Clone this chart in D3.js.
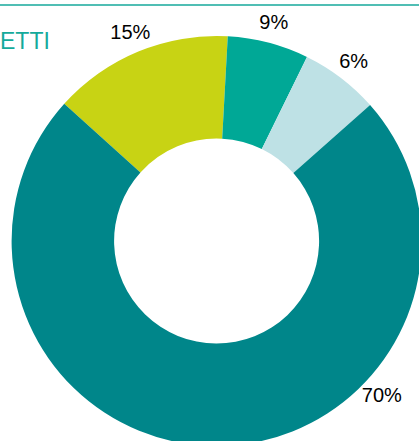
<!DOCTYPE html>
<html>
<head>
<meta charset="utf-8">
<script src="https://cdn.jsdelivr.net/npm/d3@7"></script>
<style>
  body { margin: 0; background: #fff; }
  svg { display: block; }
</style>
</head>
<body>
<div id="chart"></div>
<script>
// slice shares (clockwise, starting at the yellow slice)
var categories = ["A", "B", "C", "D"]
var shares = [14.2, 6.4, 6.2, 73.2]
var labels = ["15%", "9%", "6%", "70%"]
var colors = ["#c8d314", "#00a896", "#bee1e5", "#00868a"]
var title = "ETTI"

var width = 419, height = 441
var cx = 216.6, cy = 241
var outerR = 205, innerR = 102.5
var startDeg = -48
var labelR = 226
var bigLabelDeg = 133 // the 70% label sits off its mid angle

var svg = d3.select("#chart").append("svg")
  .attr("width", width)
  .attr("height", height)

// top rule
svg.append("line")
  .attr("x1", 0).attr("x2", width)
  .attr("y1", 5).attr("y2", 5)
  .attr("stroke", "#50beb4")
  .attr("stroke-width", 2)

// title fragment
svg.append("text")
  .attr("x", 0)
  .attr("y", 49)
  .attr("font-family", "Liberation Sans, Arial, sans-serif")
  .attr("font-size", 23)
  .attr("fill", "#14aa9b")
  .text(title)

var data = categories.map(function(c, i) {
  return { cat: c, value: shares[i], label: labels[i], color: colors[i] }
})

var rad = Math.PI / 180
var pie = d3.pie()
  .sort(null)
  .value(function(d) { return d.value })
  .startAngle(startDeg * rad)
  .endAngle((startDeg + 360) * rad)

var arc = d3.arc().innerRadius(innerR).outerRadius(outerR)

var g = svg.append("g").attr("transform", "translate(" + cx + "," + cy + ")")
var arcs = pie(data)

g.selectAll("path")
  .data(arcs)
  .enter().append("path")
  .attr("d", arc)
  .attr("fill", function(d) { return d.data.color })

g.selectAll("text.lbl")
  .data(arcs)
  .enter().append("text")
  .attr("class", "lbl")
  .attr("transform", function(d) {
    var a = (d.startAngle + d.endAngle) / 2
    if (d.value > 50) a = bigLabelDeg * rad
    return "translate(" + (labelR * Math.sin(a)) + "," + (-labelR * Math.cos(a)) + ")"
  })
  .attr("text-anchor", "middle")
  .attr("dy", "0.35em")
  .attr("font-family", "Liberation Sans, Arial, sans-serif")
  .attr("font-size", 20)
  .attr("fill", "#000")
  .text(function(d) { return d.data.label })
</script>
</body>
</html>
